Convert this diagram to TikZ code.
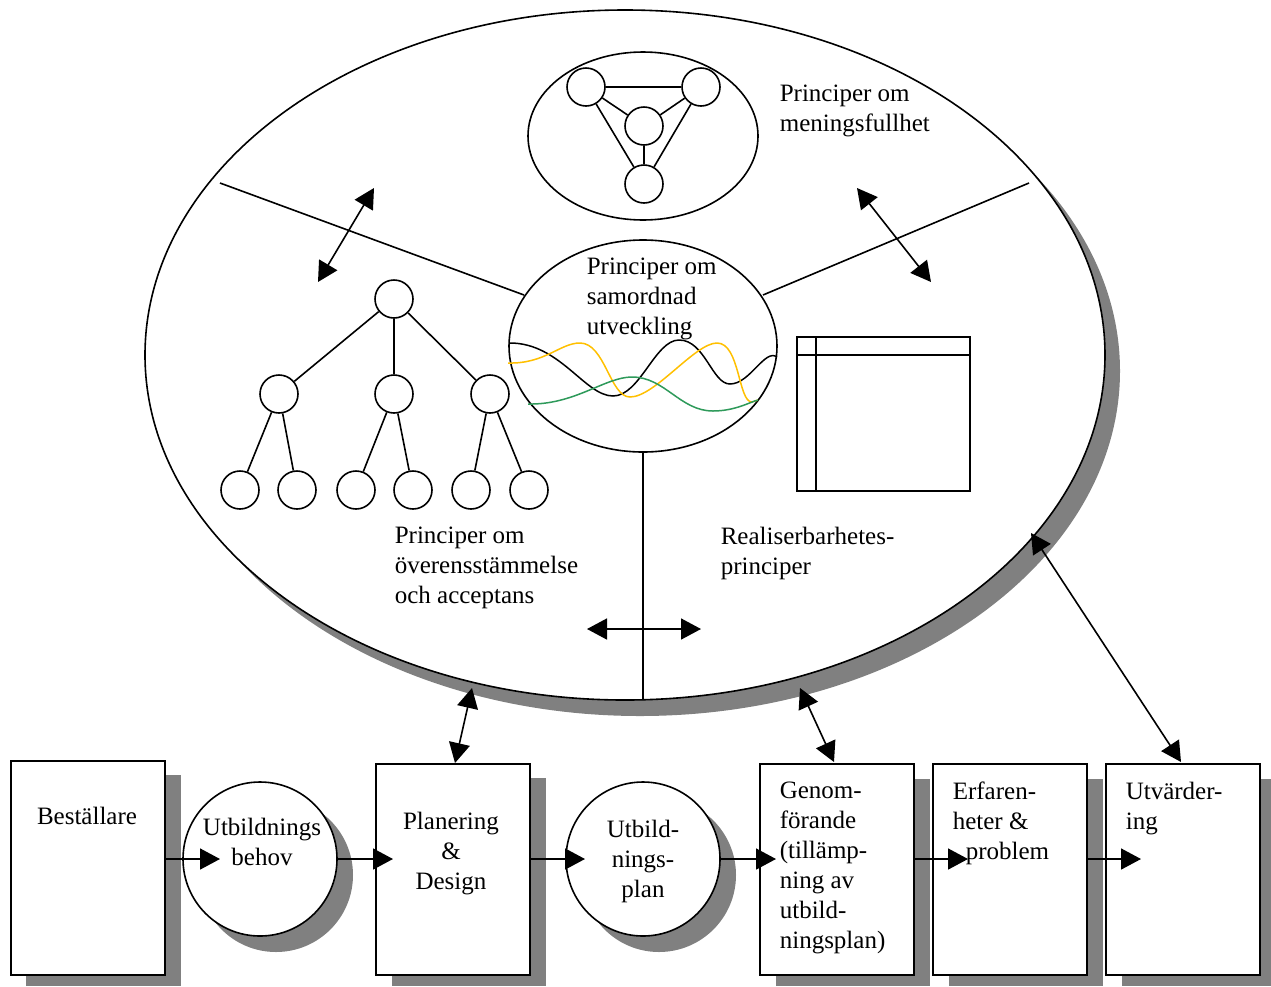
\documentclass[tikz,border=0pt]{standalone}
\usepackage{fontspec}
\setmainfont{Liberation Serif}
\usetikzlibrary{arrows.meta,shapes.geometric}
\definecolor{shadowgray}{HTML}{808080}
\definecolor{wavey}{HTML}{FFC000}
\definecolor{waveg}{HTML}{2E9A5A}
\begin{document}
\begin{tikzpicture}[x=1pt,y=-1pt, line width=1.6pt,
  txt/.style={inner sep=0pt, font=\fontsize{25}{30}\selectfont, align=left, anchor=north west},
  ctxt/.style={inner sep=0pt, font=\fontsize{25}{30}\selectfont, align=center, anchor=north},
  bubble/.style={circle, draw, fill=white, minimum size=38pt, inner sep=0pt},
  proc/.style={draw, fill=white, minimum width=154pt, minimum height=211pt, inner sep=0pt, anchor=north west},
  flow/.style={circle, draw, fill=white, minimum size=154pt, inner sep=0pt},
  tip/.style={-{Triangle[length=20pt,width=21pt]}},
  dtip/.style={{Triangle[length=20pt,width=21pt]}-{Triangle[length=20pt,width=21pt]}},
  wave/.style={line width=1.5pt}
]
\useasboundingbox (0,0) rectangle (1271,986);

% large ellipse with its drop shadow
\node[ellipse, fill=shadowgray, minimum width=960pt, minimum height=690pt, inner sep=0pt] at (640,371) {};
\node[ellipse, draw, fill=white, minimum width=960pt, minimum height=690pt, inner sep=0pt] (world) at (625,355) {};

% dividing lines
\draw (220,183) -- (524,295);
\draw (1029,183) -- (763,295);
\node[ellipse, draw, fill=white, minimum width=268pt, minimum height=212pt, inner sep=0pt] (samord) at (643,346) {};
\draw (samord.south) -- (643,700);

% meaningfulness: triangle graph in an ellipse
\node[ellipse, draw, minimum width=230pt, minimum height=168pt, inner sep=0pt] (mening) at (643,136) {};
\node[bubble] (ga) at (586,87) {};
\node[bubble] (gb) at (701,87) {};
\node[bubble] (gc) at (644,126) {};
\node[bubble] (gd) at (644,184) {};
\draw (ga) -- (gb);
\draw (ga) -- (gc);
\draw (gb) -- (gc);
\draw (gc) -- (gd);
\draw (ga) -- (gd);
\draw (gb) -- (gd);
\node[txt] (tmen) at (779,84) {Principer om\\meningsfullhet};

% coordination: waves
\node[txt] (tsam) at (586,257) {Principer om\\samordnad\\utveckling};
\draw[wave] (510,343) .. controls (560,343) and (585,396) .. (613,396)
  .. controls (640,396) and (655,340) .. (679,340)
  .. controls (705,340) and (712,384) .. (730,384)
  .. controls (750,384) and (765,348) .. (777,357);
\draw[wave, wavey] (508,363) .. controls (545,364) and (560,343) .. (580,343)
  .. controls (605,343) and (610,397) .. (630,397)
  .. controls (655,397) and (695,343) .. (717,343)
  .. controls (740,343) and (738,402) .. (752,402) -- (758,400);
\draw[wave, waveg] (528,404) .. controls (575,405) and (605,377) .. (632,377)
  .. controls (665,377) and (680,411) .. (713,411)
  .. controls (735,411) and (750,402) .. (758,400);

% agreement: tree
\node[bubble] (r) at (394,299) {};
\node[bubble] (m1) at (279,394) {};
\node[bubble] (m2) at (394,394) {};
\node[bubble] (m3) at (490,394) {};
\node[bubble] (l1) at (240,490) {};
\node[bubble] (l2) at (297,490) {};
\node[bubble] (l3) at (356,490) {};
\node[bubble] (l4) at (413,490) {};
\node[bubble] (l5) at (471,490) {};
\node[bubble] (l6) at (529,490) {};
\draw (r) -- (m1);
\draw (r) -- (m2);
\draw (r) -- (m3);
\draw (m1) -- (l1);
\draw (m1) -- (l2);
\draw (m2) -- (l3);
\draw (m2) -- (l4);
\draw (m3) -- (l5);
\draw (m3) -- (l6);
\node[txt] (tove) at (394,526) {Principer om\\överensstämmelse\\och acceptans};

% feasibility: table
\draw (797,337) rectangle (970,491);
\draw (797,355) -- (970,355);
\draw (816,337) -- (816,491);
\node[txt] (treal) at (720,526) {Realiserbarhetes-\\principer};

% double arrows inside the ellipse
\coordinate (a1) at (374,188);
\coordinate (a2) at (318,282);
\coordinate (a3) at (857,188);
\coordinate (a4) at (931,282);
\coordinate (a5) at (587,629);
\coordinate (a6) at (701,629);
\draw[dtip] (a1) -- (a2);
\draw[dtip] (a3) -- (a4);
\draw[dtip] (a5) -- (a6);

% process chain: shadows
\fill[shadowgray] (26,775) rectangle (181,986);
\fill[shadowgray] (276,875) circle[radius=77pt];
\fill[shadowgray] (392,778) rectangle (546,986);
\fill[shadowgray] (659,875) circle[radius=77pt];
\fill[shadowgray] (776,779) rectangle (930,986);
\fill[shadowgray] (949,779) rectangle (1103,986);
\fill[shadowgray] (1122,779) rectangle (1271,986);

% process chain: boxes and circles
\node[proc, minimum height=214pt] (best) at (10,760) {};
\node[flow] (behov) at (260,859) {};
\node[proc] (plan) at (375,763) {};
\node[flow] (uplan) at (643,859) {};
\node[proc] (genom) at (759,763) {};
\node[proc] (erf) at (932,763) {};
\node[proc] (utv) at (1105,763) {};

\node[ctxt] (tbest) at (87,806) {Beställare};
\node[ctxt] (tbehov) at (262,817) {Utbildnings\\behov};
\node[ctxt] (tplan) at (451,811) {Planering\\\&\\Design};
\node[ctxt] (tuplan) at (643,819) {Utbild-\\nings-\\plan};
\node[txt] (tgenom) at (779,781) {Genom-\\förande\\(tillämp-\\ning av\\utbild-\\ningsplan)};
\node[txt] (terf) at (952,781) {Erfaren-\\heter \&\\\hspace{13pt}problem};
\node[txt] (tutv) at (1125,781) {Utvärder-\\ing};

% flow arrows
\draw[tip] (best.east |- 0,859) -- (220,859);
\draw[tip] (behov.east) -- (393,859);
\draw[tip] (plan.east |- 0,859) -- (585,859);
\draw[tip] (uplan.east) -- (776,859);
\draw[tip] (genom.east |- 0,859) -- (968,859);
\draw[tip] (erf.east |- 0,859) -- (1141,859);

% links between the principles and the chain
\coordinate (b1) at (472,688);
\coordinate (b2) at (800,688);
\coordinate (b3) at (1031,533);
\draw[dtip] (b1) -- (plan.north -| 455,0);
\draw[dtip] (b2) -- (834,762);
\draw[dtip] (b3) -- (1181,762);
\end{tikzpicture}
\end{document}
